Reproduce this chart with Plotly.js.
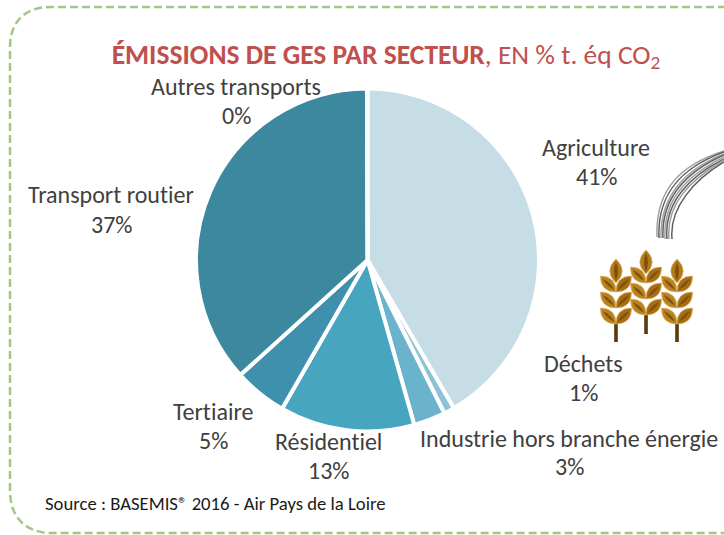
<!DOCTYPE html>
<html><head><meta charset="utf-8">
<script src="https://cdn.plot.ly/plotly-3.0.1.min.js"></script>
<style>html,body{margin:0;padding:0;background:#fff}svg text{font-variant-ligatures:none;font-feature-settings:"liga" 0}</style></head>
<body><div id="g" style="width:724px;height:535px"></div>
<script>
const W=724,H=535;
const sectors=["Agriculture","Déchets","Industrie hors branche énergie","Résidentiel","Tertiaire","Transport routier","Autres transports"];
const values=[41.6,1.0,3.0,12.7,5.0,36.65,0.05];
const shownPct=["41%","1%","3%","13%","5%","37%","0%"];
const colors=["#C6DDE6","#8CC2D4","#6BB3CC","#47A5C0","#3F90AD","#3B889F","#3B889F"];
const labelX=[596,583,569,328,213,111,236];
const nameY=[147.5,363.5,438.5,441.5,411.5,194,87];
const pctY=[176.5,392.5,466.5,470.5,440.5,224.5,115.5];
const px=x=>(x/W).toFixed(4), py=y=>(1-y/H).toFixed(4);
function P(cmds){
  return cmds.map(c=>c[0]+' '+c.slice(1).map((v,i)=>i%2==0?px(v):py(v)).join(' ')).join(' ');
}
const shapes=[];
shapes.push({type:'path',xref:'paper',yref:'paper',layer:'above',
 path:P([['M',750,7],['L',50,7],['C',25,7,10,22,10,47],['L',10,490],['C',10,515,22,530,47,533],['L',750,533]]),
 line:{color:'#A3C585',width:2.5,dash:'8px 4px'}});
[[657,237,655,190,680,165,724,151],[659,238,657,195,680,168,724,152],[661,238,660,196,684,170,724,154],
 [663,238,661,198,686,172,724,155],[665,239,663,200,686,176,724,157],[667,239,664,202,690,176,724,159],
 [669,239,666,204,690,180,724,160],[672,239,669,208,694,180,724,162]]
.forEach((s,i)=>shapes.push({type:'path',xref:'paper',yref:'paper',
 path:P([['M',s[0],s[1]],['C',s[2],s[3],s[4],s[5],s[6],s[7]]]),
 line:{color:i%2?'#5f5f5f':'#a0a0a0',width:1.5}}));
function leaf(x0,y0,x1,y1,b,fill,edge){
  const mx=(x0+x1)/2,my=(y0+y1)/2,dx=x1-x0,dy=y1-y0;
  const nx=-dy*b,ny=dx*b;
  shapes.push({type:'path',xref:'paper',yref:'paper',fillcolor:fill,
    path:P([['M',x0,y0],['Q',mx+nx,my+ny,x1,y1],['Q',mx-nx,my-ny,x0,y0]])+' Z',
    line:edge?{color:edge,width:0.7}:{width:0}});
}
function wheat(cx,top,bottom){
  shapes.push({type:'path',xref:'paper',yref:'paper',fillcolor:'#5A3A08',
   path:P([['M',cx-1.8,top+62],['L',cx+1.8,top+62],['L',cx+1.8,bottom],['L',cx-1.8,bottom]])+' Z',line:{width:0}});
  leaf(cx,top+24,cx,top,0.52,'#B07A18','#E3B565');
  leaf(cx,top+22,cx,top+3,0.2,'#7D500A');
  for(const d of [17,33,49]){
    leaf(cx,top+d+16,cx-15.5,top+d,0.5,'#B9821C','#E3B565');
    leaf(cx-2,top+d+13.5,cx-13,top+d+3,0.18,'#7D500A');
    leaf(cx,top+d+16,cx+15.5,top+d,0.5,'#A66C12','#E3B565');
    leaf(cx+2,top+d+13.5,cx+13,top+d+3,0.18,'#7D500A');
  }
}
wheat(616,259,342);wheat(646,250,334);wheat(677,259,342);

const labelFont={family:'Carlito,Lato,sans-serif',size:24,color:'#404040'};
const annotations=[];
sectors.forEach((s,i)=>{
  annotations.push({xref:'paper',yref:'paper',x:labelX[i]/W,y:1-nameY[i]/H,text:s,showarrow:false,xanchor:'center',yanchor:'middle',font:labelFont});
  annotations.push({xref:'paper',yref:'paper',x:labelX[i]/W,y:1-pctY[i]/H,text:shownPct[i],showarrow:false,xanchor:'center',yanchor:'middle',font:labelFont});
});
annotations.push({xref:'paper',yref:'paper',x:43/W,y:1-503.5/H,xanchor:'left',yanchor:'middle',showarrow:false,
  text:'Source : BASEMIS® 2016 - Air Pays de la Loire',font:{family:'Carlito,Lato,sans-serif',size:18.7,color:'#1a1a1a'}});

Plotly.newPlot('g',[{type:'pie',labels:sectors,values:values,sort:false,direction:'clockwise',rotation:0,
  marker:{colors:colors,line:{color:'#fff',width:4}},textinfo:'none',hoverinfo:'skip',showlegend:false,
  domain:{x:[196/W,539/W],y:[1-431.5/H,1-88.5/H]}}],
 {width:W,height:H,margin:{l:0,r:0,t:0,b:0},paper_bgcolor:'#fff',showlegend:false,shapes:shapes,annotations:annotations,
  title:{text:'<b>ÉMISSIONS DE GES PAR SECTEUR</b>, EN % t. éq CO<sub>2</sub>',x:386/W,xanchor:'center',y:1-54/H,yanchor:'middle',
   font:{family:'Carlito,Lato,sans-serif',size:27.5,color:'#C0504D'}}},
 {displayModeBar:false,staticPlot:true});
</script></body></html>
